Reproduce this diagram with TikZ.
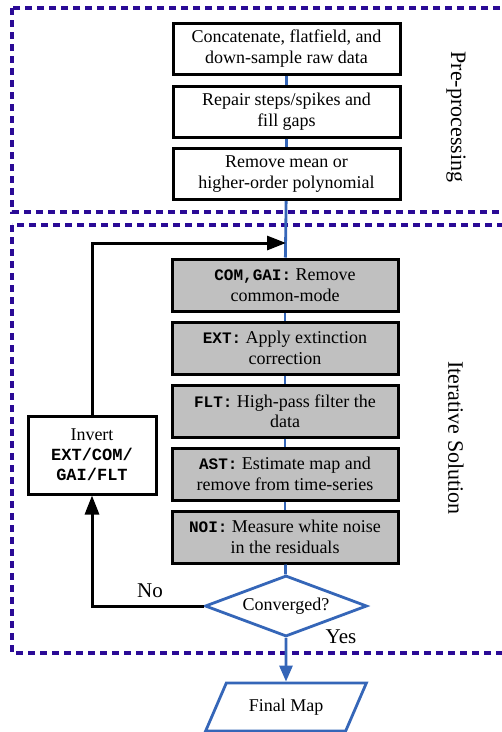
\documentclass[tikz,border=0pt]{standalone}
\usepackage{fontspec}
\setmainfont{Liberation Serif}
\setmonofont{Liberation Mono}
\usetikzlibrary{shapes.geometric,arrows.meta}
\definecolor{dashcol}{HTML}{2A0A96}
\definecolor{flowblue}{HTML}{3566B8}
\definecolor{boxgrey}{HTML}{C0C0C0}
\newcommand{\kw}[1]{{\ttfamily\bfseries\fontsize{16}{20}\selectfont #1}}
\tikzset{
  whitebox/.style={draw=black, line width=3pt, fill=white, minimum width=227, minimum height=51, inner sep=0pt, align=center, font=\fontsize{18}{20.5}\selectfont},
  greybox/.style={whitebox, fill=boxgrey, minimum width=226, minimum height=52},
  region/.style={draw=dashcol, line width=3.2pt, dash pattern=on 7pt off 5pt},
  flow/.style={draw=flowblue, line width=2.8pt},
  back/.style={draw=black, line width=3pt},
  sidelabel/.style={rotate=-90, font=\fontsize{22}{24}\selectfont},
  lbl/.style={font=\fontsize{21}{24}\selectfont, inner sep=0pt}
}
\begin{document}
\begin{tikzpicture}[x=1pt,y=-1pt]
\useasboundingbox (0,0) rectangle (502,732);
\clip (0,0) rectangle (502,732);
% dashed regions (right edges lie beyond the picture)
\draw[region] (12,8) rectangle (520,212);
\draw[region] (12,225) rectangle (520,653);
\node[sidelabel] (pre) at (456,117) {Pre-processing};
\node[sidelabel] (its) at (456,438) {Iterative Solution};
% pre-processing boxes
\node[whitebox] (b1) at (286.5,48.5) {Concatenate, flatfield, and\\down-sample raw data};
\node[whitebox] (b2) at (286.5,111.5) {Repair steps/spikes and\\fill gaps};
\node[whitebox] (b3) at (286.5,174) {Remove mean or\\higher-order polynomial};
% iterative boxes
\node[greybox] (g1) at (285,285) {\kw{COM,GAI:} Remove\\common-mode};
\node[greybox] (g2) at (285,348) {\kw{EXT:} Apply extinction\\correction};
\node[greybox] (g3) at (285,411) {\kw{FLT:} High-pass filter the\\data};
\node[greybox] (g4) at (285,474) {\kw{AST:} Estimate map and\\remove from time-series};
\node[greybox] (g5) at (285,537) {\kw{NOI:} Measure white noise\\in the residuals};
\node[draw=flowblue, line width=2.8pt, fill=white, diamond, aspect=2.66, minimum width=162, minimum height=61, inner sep=0pt, font=\fontsize{18}{20}\selectfont] (dia) at (286,606) {Converged?};
\node[draw=flowblue, line width=2.8pt, fill=white, trapezium, trapezium left angle=51.6, trapezium right angle=128.4, trapezium stretches=true, minimum width=162, minimum height=48, inner sep=0pt, font=\fontsize{18}{20}\selectfont] (fm) at (286,707) {Final Map};
\node[whitebox, minimum width=128, minimum height=78, font=\fontsize{18}{20}\selectfont] (inv) at (92,455) {Invert\\\kw{\fontsize{17}{21}\selectfont EXT/COM/}\\\kw{\fontsize{17}{21}\selectfont GAI/FLT}};
% connectors
\draw[flow] (b1) -- (b2);
\draw[flow] (b2) -- (b3);
\draw[flow] (b3) -- (g1);
\draw[flow] (g1) -- (g2);
\draw[flow] (g2) -- (g3);
\draw[flow] (g3) -- (g4);
\draw[flow] (g4) -- (g5);
\draw[flow] (g5) -- (dia);
\draw[flow, -{Triangle[length=16pt,width=13pt]}] (dia.south) -- (fm.north);
\coordinate (join) at (286,243);
\draw[back, -{Triangle[length=19pt,width=14pt]}] (inv.north) -- (inv.north |- join) -- (join);
\draw[back, -{Triangle[length=19pt,width=14pt]}] (dia.west) -- (inv.south |- dia.west) -- (inv.south);
\node[lbl] (no) at (150,591) {No};
\node[lbl] (yes) at (341,637) {Yes};
\end{tikzpicture}
\end{document}
